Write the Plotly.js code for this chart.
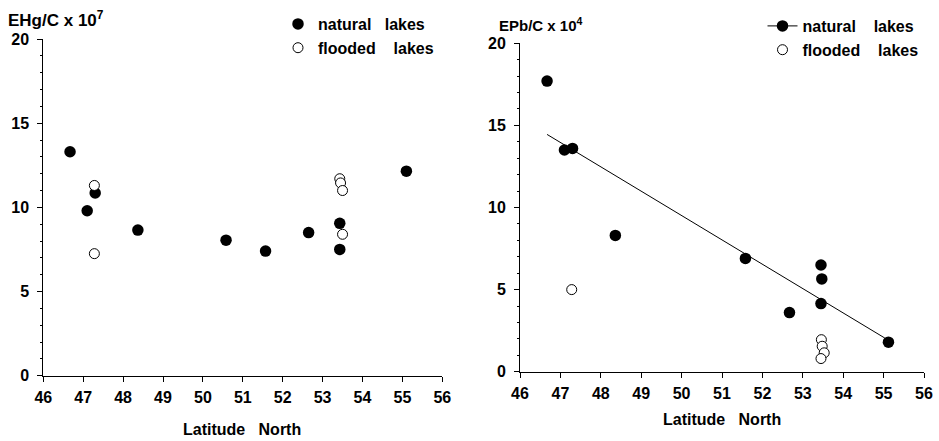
<!DOCTYPE html>
<html>
<head>
<meta charset="utf-8">
<script src="https://cdn.plot.ly/plotly-3.0.1.min.js"></script>
<style>html,body{margin:0;padding:0;background:#fff;}#chart{width:939px;height:441px;}</style>
</head>
<body>
<div id="chart"></div>
<script>
// ---- Data ----
// Left panel: EHg/C x 10^7 vs latitude
const natLatHg = [46.67, 47.1, 47.3, 48.37, 50.58, 51.57, 52.65, 53.43, 53.43, 55.1];
const natHg    = [13.3, 9.8, 10.85, 8.65, 8.05, 7.4, 8.5, 9.05, 7.5, 12.15];
const floLatHg = [47.28, 47.28, 53.43, 53.45, 53.5, 53.5];
const floHg    = [11.3, 7.25, 11.7, 11.45, 11.0, 8.4];
// Right panel: EPb/C x 10^4 vs latitude
const natLatPb = [46.67, 47.1, 47.3, 48.36, 51.58, 52.67, 53.45, 53.47, 53.45, 55.12];
const natPb    = [17.7, 13.5, 13.6, 8.3, 6.9, 3.6, 6.5, 5.65, 4.15, 1.8];
const floLatPb = [47.28, 53.46, 53.48, 53.53, 53.45];
const floPb    = [5.0, 1.95, 1.55, 1.15, 0.8];
// Trend line through natural lakes (end points)
const fitLat = [46.67, 55.03];
const fitPb  = [14.45, 2.05];
// Axis ticks
const xTicks = [46, 47, 48, 49, 50, 51, 52, 53, 54, 55, 56];
const yTicks = [0, 5, 10, 15, 20];

const S = '\u00a0';
const sp = n => S.repeat(n);
const FONT = 'Liberation Sans';
const W = 939, H = 441;
const bold = (size) => ({family: FONT, size: size, color: '#000', weight: 'bold'});

const filled = {symbol: 'circle', size: 11.5, color: '#000', line: {width: 0}};
const open = {symbol: 'circle', size: 10, color: '#fff', line: {width: 1, color: '#000'}};

const traces = [
  {x: natLatHg, y: natHg, xaxis: 'x', yaxis: 'y', mode: 'markers', type: 'scatter',
   name: 'natural' + sp(3) + 'lakes', marker: filled, legend: 'legend'},
  {x: floLatHg, y: floHg, xaxis: 'x', yaxis: 'y', mode: 'markers', type: 'scatter',
   name: 'flooded' + sp(4) + 'lakes', marker: open, legend: 'legend'},
  {x: fitLat, y: fitPb, xaxis: 'x2', yaxis: 'y2', mode: 'lines', type: 'scatter',
   line: {color: '#000', width: 1}, showlegend: false},
  {x: natLatPb, y: natPb, xaxis: 'x2', yaxis: 'y2', mode: 'markers', type: 'scatter',
   name: 'natural lakes', marker: filled, showlegend: false},
  {x: [null], y: [null], xaxis: 'x2', yaxis: 'y2', mode: 'lines+markers', type: 'scatter',
   name: 'natural' + sp(4) + 'lakes', marker: filled, line: {color: '#000', width: 1}, legend: 'legend2'},
  {x: floLatPb, y: floPb, xaxis: 'x2', yaxis: 'y2', mode: 'markers', type: 'scatter',
   name: 'flooded' + sp(4) + 'lakes', marker: open, legend: 'legend2'}
];

function xAx(domain, anchor) {
  return {domain: domain, anchor: anchor, range: [46, 56], tickvals: xTicks,
    showline: true, linecolor: '#000', linewidth: 1, ticks: 'outside', ticklen: 5,
    tickcolor: '#000', showgrid: false, zeroline: false, fixedrange: true,
    ticklabelstandoff: 2, tickfont: bold(16)};
}
function yAx(domain, anchor) {
  return {domain: domain, anchor: anchor, range: [0, 20], tickvals: yTicks,
    showline: true, linecolor: '#000', linewidth: 1, ticks: 'outside', ticklen: 5,
    tickcolor: '#000', showgrid: false, zeroline: false, fixedrange: true,
    minor: {dtick: 1, tick0: 0, ticks: 'outside', ticklen: 2.5, tickcolor: '#000', showgrid: false},
    ticklabelstandoff: 5, tickfont: bold(16)};
}

const layout = {
  width: W, height: H,
  margin: {l: 0, r: 0, t: 0, b: 0},
  paper_bgcolor: '#fff', plot_bgcolor: '#fff',
  font: {family: FONT, color: '#000'},
  xaxis: xAx([43.3 / W, 442.3 / W], 'y'),
  yaxis: yAx([1 - 375.7 / H, 1 - 39 / H], 'x'),
  xaxis2: xAx([520 / W, 924 / W], 'y2'),
  yaxis2: yAx([1 - 371.7 / H, 1 - 43.3 / H], 'x2'),
  legend: {x: 278 / W, y: 1 - 7 / H, xanchor: 'left', yanchor: 'top',
    bgcolor: 'rgba(0,0,0,0)', font: bold(16), tracegroupgap: 0, itemclick: false},
  legend2: {x: 762.5 / W, y: 1 - 9 / H, xanchor: 'left', yanchor: 'top',
    bgcolor: 'rgba(0,0,0,0)', font: bold(16), tracegroupgap: 0, itemclick: false},
  annotations: [
    {text: 'EHg/C x 10<sup>7</sup>', xref: 'paper', yref: 'paper', x: 6 / W, y: 1 - 18.5 / H,
     xanchor: 'left', yanchor: 'middle', showarrow: false, font: bold(17)},
    {text: 'EPb/C x 10<sup>4</sup>', xref: 'paper', yref: 'paper', x: 497 / W, y: 1 - 25 / H,
     xanchor: 'left', yanchor: 'middle', showarrow: false, font: bold(15)},
    {text: 'Latitude' + sp(3) + 'North', xref: 'paper', yref: 'paper', x: 242 / W, y: 1 - 429 / H,
     xanchor: 'center', yanchor: 'middle', showarrow: false, font: bold(16)},
    {text: 'Latitude' + sp(3) + 'North', xref: 'paper', yref: 'paper', x: 722 / W, y: 1 - 419 / H,
     xanchor: 'center', yanchor: 'middle', showarrow: false, font: bold(16)}
  ]
};

Plotly.newPlot('chart', traces, layout, {displayModeBar: false, staticPlot: true});
</script>
</body>
</html>
